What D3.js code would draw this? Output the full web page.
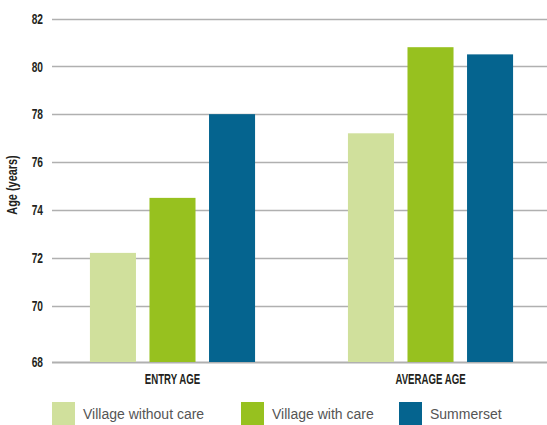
<!DOCTYPE html>
<html>
<head>
<meta charset="utf-8">
<script src="https://cdn.jsdelivr.net/npm/d3@7"></script>
<style>
    body { margin: 0; background: #fff; }
    svg { display: block; }
</style>
</head>
<body>
<div id="chart"></div>
<script>

var categories = [ 'ENTRY AGE', 'AVERAGE AGE' ];
var seriesNames = [ 'Village without care', 'Village with care', 'Summerset' ];
var withoutCare = [ 72.2, 77.2 ];
var withCare = [ 74.5, 80.8 ];
var summerset = [ 78.0, 80.5 ];
var yTicks = [ 68, 70, 72, 74, 76, 78, 80, 82 ];

var colors = [ '#d0e09c', '#97c11f', '#05648f' ];
var values = [ withoutCare, withCare, summerset ];

var width = 547,
    height = 425;

var svg = d3.select('#chart').append('svg')
    .attr('width', width)
    .attr('height', height);

// axis is broken between 68 and 70, baseline sits lower
var y = d3.scaleLinear()
    .domain([ 68, 70, 82 ])
    .range([ 362, 305.5, 18.5 ]);

var x0 = d3.scaleBand()
    .domain( categories )
    .range([ 52, 551 ])
    .paddingInner( 0.36 )
    .paddingOuter( 0.147 );

var x1 = d3.scaleBand()
    .domain( seriesNames )
    .range([ 0, x0.bandwidth() ])
    .paddingInner( 0.227 );

var labelFont = '"Liberation Sans Narrow", "Liberation Sans", Arial, sans-serif';

function condensed ( sel ) {
    sel.style('font-family', labelFont)
        .style('font-weight', 'bold')
        .style('fill', '#231f20');
}

// gridlines
svg.append('g').selectAll('line')
    .data( yTicks )
    .enter().append('line')
    .attr('x1', 52)
    .attr('x2', width)
    .attr('y1', function ( d ) { return Math.round( y( d ) ) + 0.5; })
    .attr('y2', function ( d ) { return Math.round( y( d ) ) + 0.5; })
    .style('stroke', '#b0b0b0')
    .style('stroke-width', function ( d ) { return d === 68 ? 2 : 1.3; });

// tick labels (squeezed horizontally to mimic the condensed face)
svg.append('g').selectAll('text')
    .data( yTicks )
    .enter().append('text')
    .attr('transform', function ( d ) { return 'translate(43,' + y( d ) + ') scale(0.68,1)'; })
    .attr('dy', '0.35em')
    .attr('text-anchor', 'end')
    .style('font-size', '15px')
    .call( condensed )
    .text( function ( d ) { return d; });

// y title
svg.append('text')
    .attr('transform', 'translate(12,185) rotate(-90) scale(0.78,1)')
    .attr('text-anchor', 'middle')
    .attr('dy', '0.35em')
    .style('font-size', '14px')
    .call( condensed )
    .text('Age (years)');

// bars
var groups = svg.append('g').selectAll('g')
    .data( categories )
    .enter().append('g')
    .attr('transform', function ( d ) { return 'translate(' + x0( d ) + ',0)'; });

groups.selectAll('rect')
    .data( function ( d, i ) {
        return seriesNames.map( function ( s, j ) {
            return { series: s, value: values[ j ][ i ], color: colors[ j ] };
        });
    })
    .enter().append('rect')
    .attr('x', function ( d ) { return x1( d.series ); })
    .attr('width', x1.bandwidth())
    .attr('y', function ( d ) { return y( d.value ); })
    .attr('height', function ( d ) { return y( 68 ) - y( d.value ); })
    .style('fill', function ( d ) { return d.color; });

// category labels
svg.append('g').selectAll('text')
    .data( categories )
    .enter().append('text')
    .attr('transform', function ( d ) {
        return 'translate(' + ( x0( d ) + x0.bandwidth() / 2 ) + ',379) scale(0.69,1)';
    })
    .attr('dy', '0.35em')
    .attr('text-anchor', 'middle')
    .style('font-size', '14px')
    .call( condensed )
    .text( function ( d ) { return d; });

// legend
var legendX = [ 52, 241, 399 ];

var legend = svg.append('g').selectAll('g')
    .data( seriesNames )
    .enter().append('g')
    .attr('transform', function ( d, i ) { return 'translate(' + legendX[ i ] + ',402)'; });

legend.append('rect')
    .attr('width', 23)
    .attr('height', 23)
    .style('fill', function ( d, i ) { return colors[ i ]; });

legend.append('text')
    .attr('x', 31)
    .attr('y', 12)
    .attr('dy', '0.35em')
    .style('font-family', '"Liberation Sans", Arial, sans-serif')
    .style('font-size', '14px')
    .style('fill', '#555')
    .text( function ( d ) { return d; });

</script>
</body>
</html>
